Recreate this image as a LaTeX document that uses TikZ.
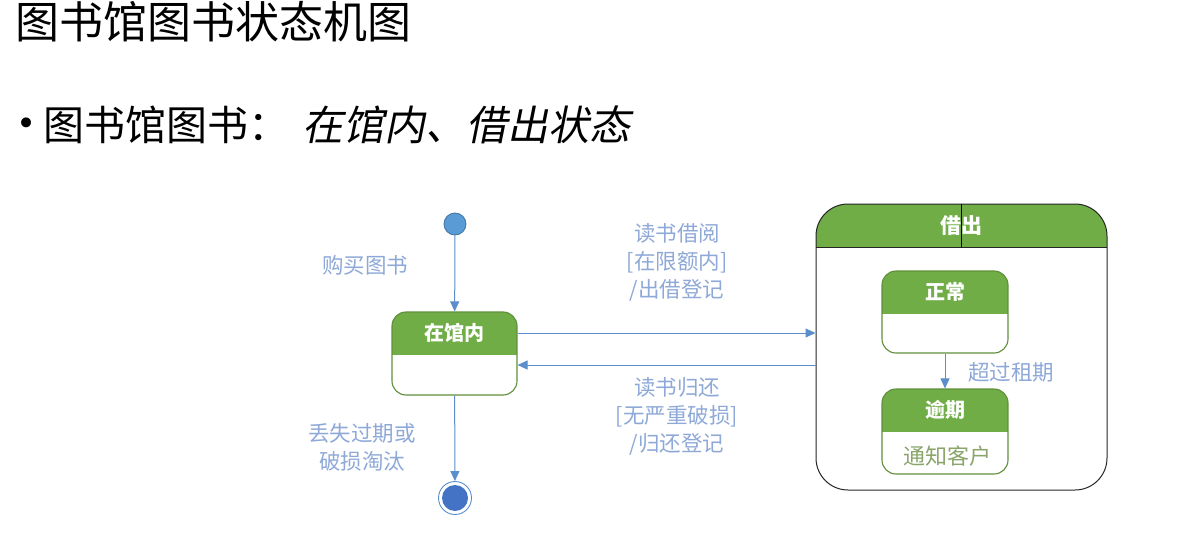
\documentclass[tikz,border=0pt]{standalone}
\usepackage{fontspec}
\setmainfont{Noto Sans CJK SC}
\newfontfamily\cjkit[FakeSlant=0.2]{Noto Sans CJK SC}
\newfontfamily\bulletfont{DejaVu Sans}
\usetikzlibrary{arrows.meta}
\definecolor{hdrgreen}{HTML}{70AD47}
\definecolor{bordgreen}{HTML}{5F8F3A}
\definecolor{arrblue}{HTML}{5B8FCB}
\definecolor{lblblue}{HTML}{8EA9D8}
\definecolor{initblue}{HTML}{5B9BD5}
\definecolor{initbord}{HTML}{41719C}
\definecolor{finalblue}{HTML}{4472C4}
\definecolor{notegreen}{HTML}{8AA56A}
\tikzset{
  statebox/.style={draw=bordgreen, line width=1.1pt, fill=white, rounded corners=14pt,
    minimum width=#1, inner sep=0pt,
    path picture={\fill[hdrgreen, sharp corners] (path picture bounding box.north west) rectangle ([yshift=-43pt]path picture bounding box.north east);}},
  hdrtext/.style={text=white, font=\fontsize{20}{24}\selectfont\bfseries, inner sep=0pt},
  lbl/.style={text=lblblue, font=\fontsize{21.5}{28}\selectfont, align=center, inner sep=0pt},
  arr/.style={draw=arrblue, line width=1pt, -{Triangle[length=10pt,width=9pt]}},
}
\begin{document}
\begin{tikzpicture}[x=1pt,y=-1pt]
\useasboundingbox[fill=white] (0,0) rectangle (1187,538);
% titles
\node[anchor=west, inner sep=0pt, font=\fontsize{44}{50}\selectfont] (title) at (15,22) {图书馆图书状态机图};
\node[inner sep=0pt, font=\fontsize{34}{40}\selectfont\bulletfont] (bullet) at (27,127) {•};
\node[anchor=west, inner sep=0pt, font=\fontsize{41}{46}\selectfont] (sub) at (43,125) {图书馆图书：};
\node[anchor=west, inner sep=0pt, font=\fontsize{41}{46}\selectfont\cjkit] (subit) at (302,125) {在馆内、借出状态};

% initial
\node[circle, draw=initbord, line width=0.8pt, fill=initblue, minimum size=22pt, inner sep=0pt] (init) at (455,224) {};
% in library
\node[statebox=125pt, minimum height=83pt] (lib) at (454.5,353.5) {};
\node[hdrtext] (libt) at ([yshift=-21.5pt]lib.north) {在馆内};
% final
\node[circle, draw=arrblue, line width=0.9pt, fill=white, minimum size=33pt, inner sep=0pt,
  path picture={\fill[finalblue] (path picture bounding box.center) circle (13pt);}] (final) at (455,498) {};

% borrowed composite
\node[draw=black!85, line width=1pt, fill=white, rounded corners=32pt, minimum width=291pt, minimum height=286pt, inner sep=0pt,
  path picture={\fill[hdrgreen, sharp corners] (path picture bounding box.north west) rectangle ([yshift=-43pt]path picture bounding box.north east);
    \draw[black!85, line width=0.9pt, sharp corners] ([yshift=-43pt]path picture bounding box.north west) -- ([yshift=-43pt]path picture bounding box.north east);}] (borrow) at (961.5,347) {};
\draw[black, line width=1pt] (borrow.north) -- ([yshift=-43pt]borrow.north);
\node[hdrtext, font=\fontsize{21}{24}\selectfont\bfseries] (borrowt) at ([yshift=-22pt]borrow.north) {借出};

\node[statebox=126pt, minimum height=82pt] (normal) at (945,312) {};
\node[hdrtext] (normalt) at ([yshift=-21.5pt]normal.north) {正常};
\node[statebox=126pt, minimum height=85pt] (over) at (945,431.5) {};
\node[hdrtext] (overt) at ([yshift=-21.5pt]over.north) {逾期};
\node[text=notegreen, font=\fontsize{22}{26}\selectfont, inner sep=0pt] (overnote) at (947,456) {通知客户};

% connectors
\draw[arr] (init) -- (lib);
\draw[arr] (lib) -- (final);
\draw[arr] ([yshift=20.5pt]lib.east) -- ([yshift=20.5pt]lib.east -| borrow.west);
\draw[arr] ([yshift=-11.5pt]lib.east -| borrow.west) -- ([yshift=-11.5pt]lib.east);
\draw[arr] (normal) -- (over);

% labels
\node[lbl] (l1) at (365,265) {购买图书};
\node[lbl] (l2) at (362,447) {丢失过期或\\破损淘汰};
\node[lbl] (l3) at (677,262) {读书借阅\\{}[在限额内]\\/出借登记};
\node[lbl] (l4) at (677,416) {读书归还\\{}[无严重破损]\\/归还登记};
\node[lbl] (l5) at (1011,372) {超过租期};
\end{tikzpicture}
\end{document}
